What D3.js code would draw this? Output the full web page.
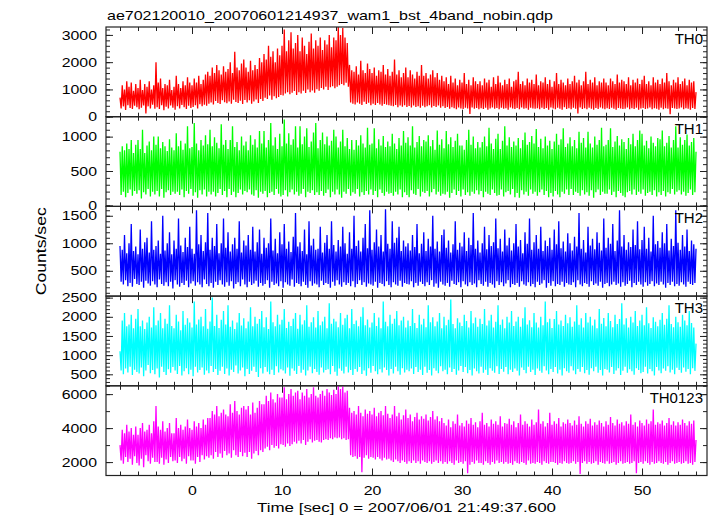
<!DOCTYPE html>
<html>
<head>
<meta charset="utf-8">
<script src="https://cdn.jsdelivr.net/npm/d3@7"></script>
<style>
html,body{margin:0;padding:0;background:#fff;}
text{font-family:"Liberation Sans",Arial,Helvetica,sans-serif;fill:#000;}
</style>
</head>
<body>
<script>
// ---- data ----
const title = "ae702120010_20070601214937_wam1_bst_4band_nobin.qdp";
const xLabel = "Time [sec] 0 = 2007/06/01 21:49:37.600";
const yLabel = "Counts/sec";
const bandNames = ["TH0", "TH1", "TH2", "TH3", "TH0123"];
const tStart = -8;        // first bin time (s)
const binSize = 0.125;    // bin width (s)
const xTickValues = [0, 10, 20, 30, 40, 50];

const th0 = [
700,300,1150,380,1000,250,1300,420,1100,320,1250,280,950,400,1200,350,
1050,270,1350,330,980,410,1200,120,1100,380,1300,300,1000,440,1150,290,
2000,350,1250,280,1400,420,1050,240,1200,370,1150,300,1350,410,980,330,
1100,260,1500,380,1200,300,1050,430,1300,350,1150,280,1450,400,1250,320,
1150,360,1400,420,1250,300,1500,460,1200,380,1350,440,1550,400,1650,480,
1500,520,1800,450,1600,580,1900,500,1700,470,1550,600,1850,530,1650,490,
1750,560,2000,480,1600,620,2380,540,1800,500,1700,590,1950,470,2100,610,
1800,520,1650,600,2050,480,1700,560,1900,630,1750,500,2150,650,2000,580,
2300,700,2100,650,2600,780,2200,620,2400,750,2000,680,2500,720,2250,800,
2600,780,3200,850,2400,900,2800,820,3100,880,2500,940,2700,800,3000,900,
2400,850,2900,950,2600,870,2300,1000,2750,900,3050,960,2500,880,2800,1010,
2600,950,2900,1050,2450,1000,2800,1100,2650,980,3000,1080,2550,1120,2900,1040,
2800,1100,3300,1150,3000,1200,3250,1150,2900,1250,2700,1100,1900,520,1700,480,
1650,450,1850,520,1550,480,2050,430,1700,550,1600,470,1950,510,1750,420,
1600,480,1800,430,1500,500,1700,450,1650,400,1900,470,1550,440,1750,420,
1500,400,1650,380,2100,430,1550,350,1700,410,1450,370,1600,420,1800,360,
1450,390,1700,340,1550,410,1400,360,1650,380,1500,330,1900,400,1500,350,
1600,380,1400,420,1550,340,1700,390,1450,360,1600,410,1350,330,1500,380,
1300,320,1450,360,1200,290,1500,350,1250,310,1400,270,1150,340,1350,300,
1250,280,1600,330,1200,300,1350,100,1150,340,1450,290,1300,320,1200,270,
1300,310,1150,280,1400,330,1250,260,1350,300,1100,340,1450,290,1200,320,
1500,270,1250,330,1150,290,1350,310,1200,260,1400,340,1100,300,1300,280,
1350,320,1650,270,1200,340,1300,290,1150,310,1400,260,1250,330,1350,300,
1200,290,1550,310,1150,270,1300,330,1250,280,1450,320,1200,260,1350,340,
1100,300,1300,270,1600,330,1200,290,1350,260,1250,350,1150,280,1400,310,
1200,270,1300,330,1500,290,1250,120,1350,340,1150,280,1300,310,1650,270,
1200,330,1350,290,1250,260,1450,320,1150,280,1300,340,1250,300,1400,270,
1250,310,1150,280,1400,330,1300,290,1200,260,1550,320,1250,300,1350,280,
1300,290,1200,340,1450,270,1150,310,1350,280,1250,330,1400,260,1200,300,
1350,320,1500,280,1200,300,1300,340,1150,270,1450,310,1250,290,1350,260,
1200,330,1400,270,1250,310,1600,290,1300,90,1150,320,1350,300,1250,280,
1450,300,1200,340,1300,270,1400,310,1150,290,1350,260,1250,320,1300,280,
900
];

const th1 = [
780,150,860,200,800,120,900,180,820,230,950,140,760,210,880,170,
950,220,820,100,1100,190,760,160,870,240,930,130,800,200,1000,160,
880,210,1000,130,830,240,920,110,860,190,790,220,960,150,840,200,
800,170,1050,200,860,150,940,230,810,120,900,210,1150,170,830,240,
850,140,1200,190,900,110,800,220,950,160,870,230,1020,130,890,200,
1100,160,860,200,990,130,910,180,830,240,1180,150,880,210,950,120,
820,240,950,150,1150,200,850,120,920,180,800,230,1000,160,870,210,
930,190,800,230,1020,160,880,140,960,220,840,110,1080,200,900,170,
1080,210,840,120,950,180,1200,200,870,150,990,240,820,170,1040,130,
860,150,1250,220,900,130,1050,190,880,230,960,160,1150,200,840,140,
1150,170,890,240,1000,120,1120,200,850,180,930,220,1060,150,1200,190,
830,150,950,210,1060,140,890,180,1000,230,870,120,940,200,1100,160,
1000,230,840,160,930,110,1100,200,860,170,980,240,820,140,950,190,
810,170,950,240,870,130,1020,190,900,150,840,210,1130,160,880,230,
900,150,1120,210,830,120,960,230,870,180,1010,140,850,200,930,170,
860,180,1040,140,900,200,820,160,980,230,870,120,1080,190,910,150,
990,120,870,220,1150,170,840,150,920,240,1010,130,860,200,950,180,
930,210,1020,130,860,190,950,240,810,160,1090,200,880,140,960,170,
830,160,1080,200,890,110,990,180,850,230,940,150,1040,210,870,130,
870,230,810,150,950,190,1100,140,880,200,1000,170,830,220,920,160,
840,210,920,120,1000,200,860,170,1130,150,900,230,820,180,970,140,
1040,150,820,230,940,130,1150,190,870,210,990,160,850,240,930,120,
870,180,980,110,830,220,950,160,1060,200,880,140,920,230,1010,170,
900,200,1110,140,850,190,970,230,830,150,1000,210,870,120,940,180,
820,130,930,210,1040,160,880,120,960,200,1120,170,850,230,900,150,
990,240,860,150,950,200,830,180,1070,140,910,220,980,160,840,190,
1070,140,900,220,840,110,1000,190,880,230,950,150,1130,200,860,170,
880,170,950,230,1120,150,850,200,930,120,1010,210,870,180,960,140,
920,120,820,190,980,210,890,160,1040,230,860,150,950,200,1090,170,
1040,230,870,140,940,180,830,200,1000,150,910,220,860,130,980,190,
960,150,1090,210,860,130,910,190,1010,170,840,240,950,160,1150,200,
840,220,990,160,880,200,950,140,1030,180,870,230,920,150,980,190,
780
];

const th2 = [
950,300,880,250,1150,330,820,220,1000,280,1350,210,860,350,940,260,
800,240,1250,300,900,190,1020,320,1100,270,830,230,1400,310,880,250,
950,200,1050,340,810,260,1500,230,870,290,1000,220,1200,300,800,180,
1050,330,900,250,1450,210,960,280,840,240,1100,320,930,200,1300,270,
900,310,810,230,1600,290,980,250,1150,200,860,340,1020,260,1550,220,
880,280,1100,190,950,300,1350,240,820,330,1000,250,1450,210,920,290,
1200,230,850,310,980,180,1100,260,900,290,1400,220,830,340,1050,250,
960,200,1150,300,880,240,1300,270,850,320,1020,210,1250,280,810,230,
1100,260,920,330,1000,190,1450,300,870,240,1080,270,820,220,1200,310,
980,190,1350,290,900,250,1030,230,840,340,1120,210,1550,280,940,260,
1020,220,860,300,1250,240,800,190,1400,310,960,230,1080,270,880,250,
900,200,1300,320,830,240,1010,280,1150,260,900,190,1400,300,970,230,
850,330,1060,250,940,210,1300,290,1000,240,810,280,1200,220,900,310,
1500,200,950,260,1050,330,850,240,1100,290,1350,210,910,270,1600,250,
880,230,1020,300,1250,190,940,280,1150,260,850,220,1620,310,990,240,
900,200,1400,290,1010,250,1100,230,1300,320,860,210,1050,280,940,260,
1000,250,870,310,1150,200,930,280,1350,230,820,300,990,260,1200,220,
860,290,1080,240,940,330,1500,210,900,270,1030,190,850,300,1150,250,
1250,230,920,280,1050,210,830,320,980,260,1400,240,880,290,1010,200,
940,310,1200,250,860,220,1100,290,970,240,1550,270,900,200,1050,330,
830,260,1000,230,1300,300,890,210,1150,280,950,250,1020,190,1450,310,
910,240,1080,290,850,220,1250,270,960,330,1100,200,870,260,1000,240,
1350,280,940,210,1060,310,820,250,1200,230,990,290,1450,220,880,260,
1020,200,1150,300,900,240,1300,270,860,330,1050,190,950,280,1100,230,
880,310,1250,220,980,260,1400,240,910,300,1030,210,850,280,1180,250,
1000,240,870,290,1120,200,940,330,1550,250,900,220,1060,280,830,260,
1300,210,960,310,1080,240,890,270,1200,230,1010,300,870,190,1450,260,
920,280,1100,220,990,250,1350,300,860,240,1050,270,1600,210,940,290,
1150,230,880,260,1020,320,930,200,1250,280,970,240,1400,300,890,250,
1060,210,1300,290,900,230,1100,260,850,310,1500,220,980,270,1040,240,
920,300,1200,250,1000,190,1350,280,870,240,1080,300,950,220,1600,260,
1010,230,880,290,1150,250,940,210,1250,300,860,260,1050,240,980,280,
900
];

const th3 = [
1100,600,1900,500,2100,650,1750,550,1800,700,2050,480,1700,620,1950,560,
2200,520,1750,680,1900,450,1680,600,1850,740,2000,530,1720,610,2250,500,
1780,650,1900,420,2100,700,1700,560,1950,480,1820,630,2300,540,1760,690,
1700,600,2050,510,1880,720,1650,470,2150,580,1790,660,1960,500,1850,620,
1720,450,2400,700,1800,550,1930,610,2000,680,1750,490,2200,600,1690,530,
1880,720,2500,560,1760,640,2050,480,1710,590,1920,700,2150,510,1800,650,
2300,470,1740,620,1900,560,1680,730,1850,520,2100,600,1770,680,1960,450,
1700,640,1880,510,2250,590,1750,700,2000,560,1820,430,1940,660,2150,520,
1730,690,1990,570,1680,500,2400,620,1860,480,1750,710,2050,550,1800,630,
1920,600,2200,520,1710,680,1870,460,1760,650,1950,590,2100,510,1690,720,
2050,540,1800,620,1910,470,2300,600,1740,700,1860,530,1990,640,1720,560,
2150,490,1780,680,1880,550,2000,610,1700,630,2350,500,1820,720,1950,570,
1880,460,1730,650,2100,590,1790,520,1960,700,2050,550,1700,610,2200,480,
1810,640,1900,570,1750,690,2000,510,2250,600,1780,460,1930,660,1720,540,
1850,720,2100,580,1760,500,1980,630,1700,550,2400,680,1870,610,1750,470,
2050,640,1820,520,1950,700,2150,580,1780,490,1900,660,2000,550,1720,620,
1900,580,1760,650,2200,510,1840,690,1710,560,2050,620,1800,480,1950,700,
1730,540,2300,610,1860,470,1990,660,1750,590,1880,530,2100,710,1700,580,
2000,620,1780,500,1920,680,2450,560,1810,640,1700,490,1960,600,1850,720,
1760,560,2050,690,1890,530,1720,610,2150,470,1830,650,1980,580,1740,520,
1950,700,1810,540,2200,620,1770,480,1900,660,2050,590,1720,540,1870,710,
2300,510,1790,640,1930,570,1700,690,2000,500,1850,620,2150,560,1760,650,
1880,590,2000,470,1740,680,1960,610,2250,530,1800,700,1910,560,1730,620,
2100,480,1850,650,1720,590,2000,540,1780,710,2400,600,1860,500,1950,640,
1710,560,1940,690,2150,520,1800,620,1900,470,1760,660,2050,580,1830,540,
1990,710,1740,600,1880,500,2300,640,1790,570,1960,690,1720,530,2100,610,
1850,490,2000,660,1770,580,1930,700,1700,540,2200,610,1820,470,1970,640,
1750,620,2100,550,1890,690,1730,510,2050,600,1810,660,1940,480,2350,590,
1800,700,1960,540,1720,630,2000,580,1850,490,2150,660,1760,610,1900,530,
2050,560,1780,700,2250,520,1830,640,1710,580,1990,470,1870,690,1750,600,
1920,530,2100,650,1790,590,1950,710,2300,550,1810,620,1730,500,2000,670,
1860,610,1740,540,2050,680,1900,570,1780,640,2150,500,1840,660,1720,590,
1300
];

const th0123 = [
3000,2100,3900,1900,3700,2300,4200,2000,3800,2200,4000,1850,3600,2350,4100,1950,
3600,1800,4000,2200,4300,1700,3800,2400,3900,2050,4200,1900,3700,2250,4400,2000,
5300,2000,4100,1900,3900,2250,4400,1850,3800,2150,4000,1950,4300,2300,3700,2050,
3700,2100,4600,1950,4000,2300,4200,2050,3900,2200,4100,1900,4500,2350,4000,2100,
3900,2100,4400,1900,4100,2300,4300,2000,4000,2400,4500,2150,4200,2350,4600,2250,
4600,2400,5000,2200,4800,2600,5300,2300,4700,2500,4900,2250,5100,2650,4800,2400,
4700,2500,5400,2250,4900,2700,5600,2400,5000,2300,4800,2600,5200,2350,5300,2550,
5100,2300,5300,2600,4800,2200,5500,2500,4900,2650,5200,2400,5600,2700,5400,2600,
5400,2800,5900,2900,5600,2700,6100,3000,5700,2850,5500,2950,6000,2800,5800,3050,
5800,3000,6400,2900,5700,3100,6000,2950,6300,3050,5900,3200,6100,3100,6200,3250,
5700,3100,6100,3300,5900,3000,6300,3200,5800,3350,6000,3150,6400,3250,5900,3300,
5800,3200,6000,3150,6200,3300,5900,3350,6300,3300,6100,3400,5950,3350,6250,3450,
6000,3400,6500,3450,6300,3350,6450,3400,6100,3300,6200,3350,5200,2400,4900,2300,
5000,2350,4800,2200,5300,2300,4900,1400,4700,2250,5100,2400,4850,2200,5000,2300,
4800,2250,5200,2150,4700,2300,4900,2200,5000,2100,4750,2250,5300,2150,4850,2200,
4600,2100,4800,2000,5300,2150,4700,2050,4900,1950,4500,2100,4750,2000,5100,1900,
4600,2050,4800,1950,4400,2100,4650,1950,4900,2050,4500,1900,4700,2100,4550,2000,
4800,1950,4450,2050,4650,1900,5000,2000,4500,2100,4700,1950,4400,2050,4600,1900,
4300,2000,4150,1900,4500,2050,4050,1950,4400,1850,4250,2100,4800,1950,4150,2000,
4300,1900,4100,2050,4450,1350,4250,1850,4600,2000,4200,1900,4350,2100,4050,1950,
4400,1950,4900,1850,4200,2050,4300,1950,4100,1850,4500,2000,4250,1900,4400,2100,
4200,1950,4700,2000,4100,1900,4300,2000,4250,1900,4550,1950,4200,1850,4400,2050,
4050,1950,4300,1900,4800,2000,4200,1950,4400,1850,4250,2100,4100,1900,4500,1950,
4200,1900,4350,2000,5100,1950,4250,1850,4400,2050,4100,1950,4300,1900,4900,2000,
4200,2000,4400,1950,4250,1850,4600,1950,4100,1900,4350,2050,4250,1950,4500,1900,
4300,1950,4150,2050,4450,1900,4200,2000,4700,1300,4250,1950,4100,2050,4400,1900,
4250,2000,4550,1900,4150,1950,4350,2050,4200,1850,4450,2000,4300,1950,4100,1900,
4400,2050,4200,1900,4650,1950,4300,2000,4150,1850,4500,1950,4250,2050,4350,1900,
4150,1950,4400,2000,4250,1900,4800,1950,4200,2050,4350,1350,4100,1950,4450,2000,
4300,1900,4150,2050,4500,1950,4250,1850,4400,2000,5100,1900,4200,1950,4350,2050,
4250,1950,4450,1900,4150,2000,4300,1850,4600,1950,4200,2050,4400,1900,4150,1950,
4350,2000,4200,1900,4500,1950,4300,2050,4150,1900,4400,1950,4250,1850,4450,2000,
3300
];

const th0Ticks = [0, 1000, 2000, 3000];
const th1Ticks = [0, 500, 1000];
const th2Ticks = [500, 1000, 1500];
const th3Ticks = [500, 1000, 1500, 2000, 2500];
const th0123Ticks = [2000, 4000, 6000];

// ---- layout / styles ----
const W = 717, H = 516;
const left = 106, right = 707, top0 = 27, ph = 89.7;
const FONT = '"Liberation Sans", Arial, Helvetica, sans-serif';
const panels = [
  {name: bandNames[0], values: th0,    color: "#ff0000", domain: [0, 3290],    major: th0Ticks,    minorStep: 200},
  {name: bandNames[1], values: th1,    color: "#00ff00", domain: [-15, 1290],  major: th1Ticks,    minorStep: 100},
  {name: bandNames[2], values: th2,    color: "#0000ff", domain: [40, 1670],   major: th2Ticks,    minorStep: 100},
  {name: bandNames[3], values: th3,    color: "#00ffff", domain: [200, 2540],  major: th3Ticks,    minorStep: 100},
  {name: bandNames[4], values: th0123, color: "#ff00ff", domain: [1210, 6490], major: th0123Ticks, minorStep: 1000}
];

const svg = d3.select("body").append("svg").attr("width", W).attr("height", H);
svg.append("rect").attr("width", W).attr("height", H).attr("fill", "#fff");

const x = d3.scaleLinear().domain([-9.556, 57.22]).range([left, right]);
const xMinor = d3.range(-8, 57.3, 2);

function styleAxis(g) {
  g.select(".domain").remove();
  g.selectAll(".tick line").attr("stroke", "#222").attr("stroke-width", 1);
  g.selectAll("text").attr("font-size", 13).attr("fill", "#000")
    .attr("font-family", FONT).classed("wide", true);
}

panels.forEach((p, i) => {
  const top = top0 + i * ph, bot = top + ph;
  const y = d3.scaleLinear().domain(p.domain).range([bot, top]);
  const cid = "clip" + i;
  svg.append("clipPath").attr("id", cid).append("rect")
    .attr("x", left).attr("y", top).attr("width", right - left).attr("height", ph);

  const pts = p.values.map((v, j) => [tStart + j * binSize, v]);
  const line = d3.line().x(d => x(d[0])).y(d => y(d[1]));
  svg.append("path").datum(pts)
    .attr("clip-path", `url(#${cid})`)
    .attr("fill", "none").attr("stroke", p.color).attr("stroke-width", 1.3)
    .attr("d", line);

  const lo = Math.ceil(p.domain[0] / p.minorStep) * p.minorStep;
  const yMinor = d3.range(lo, p.domain[1] + 1, p.minorStep);

  svg.append("g").attr("transform", `translate(${left},0)`)
    .call(d3.axisLeft(y).tickValues(yMinor).tickSize(-4).tickFormat("")).call(styleAxis);
  svg.append("g").attr("transform", `translate(${left},0)`)
    .call(d3.axisLeft(y).tickValues(p.major).tickSize(-7).tickPadding(9).tickFormat(d3.format("d"))).call(styleAxis);
  svg.append("g").attr("transform", `translate(${right},0)`)
    .call(d3.axisRight(y).tickValues(yMinor).tickSize(-4).tickFormat("")).call(styleAxis);
  svg.append("g").attr("transform", `translate(${right},0)`)
    .call(d3.axisRight(y).tickValues(p.major).tickSize(-7).tickFormat("")).call(styleAxis);
  svg.append("g").attr("transform", `translate(0,${top})`)
    .call(d3.axisTop(x).tickValues(xMinor).tickSize(-4).tickFormat("")).call(styleAxis);
  svg.append("g").attr("transform", `translate(0,${top})`)
    .call(d3.axisTop(x).tickValues(xTickValues).tickSize(-7).tickFormat("")).call(styleAxis);
  svg.append("g").attr("transform", `translate(0,${bot})`)
    .call(d3.axisBottom(x).tickValues(xMinor).tickSize(-4).tickFormat("")).call(styleAxis);
  const last = i === panels.length - 1;
  svg.append("g").attr("transform", `translate(0,${bot})`)
    .call(d3.axisBottom(x).tickValues(xTickValues).tickSize(-7).tickPadding(10)
      .tickFormat(last ? d3.format("d") : "")).call(styleAxis);

  svg.append("rect").attr("x", left).attr("y", top).attr("width", right - left).attr("height", ph)
    .attr("fill", "none").attr("stroke", "#222").attr("stroke-width", 1.2);

  svg.append("text").attr("x", right - 4).attr("y", top + 17)
    .attr("text-anchor", "end").attr("font-size", 15).text(p.name);
});

svg.append("text").attr("x", left + 1).attr("y", 20).attr("font-size", 13)
  .attr("textLength", 446).attr("lengthAdjust", "spacingAndGlyphs").text(title);
svg.append("text").attr("x", (left + right) / 2).attr("y", 512)
  .attr("text-anchor", "middle").attr("font-size", 13.5)
  .attr("textLength", 299).attr("lengthAdjust", "spacingAndGlyphs").text(xLabel);
svg.append("text").attr("transform", `translate(46,${top0 + 2.5 * ph}) rotate(-90)`)
  .attr("text-anchor", "middle").attr("font-size", 14)
  .attr("textLength", 88).attr("lengthAdjust", "spacingAndGlyphs").text(yLabel);

// widen tick labels horizontally like the reference font
svg.selectAll("text.wide").each(function() {
  const t = d3.select(this);
  if (!t.text()) return;
  const L = this.getComputedTextLength();
  t.attr("textLength", L * 1.22).attr("lengthAdjust", "spacingAndGlyphs");
});
</script>
</body>
</html>
